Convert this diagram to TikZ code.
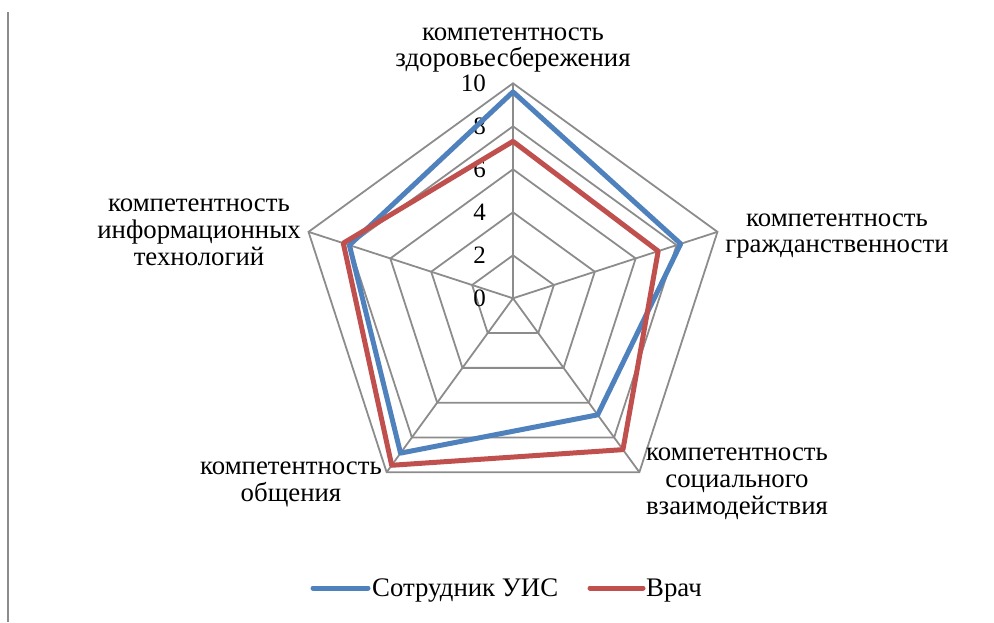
\documentclass[tikz,border=0pt]{standalone}
\usepackage{fontspec}
\setmainfont{Liberation Serif}
\usetikzlibrary{calc}
\definecolor{sblue}{HTML}{4F81BD}
\definecolor{sred}{HTML}{C0504D}
\definecolor{gridc}{HTML}{8C8C8C}
\begin{document}
\begin{tikzpicture}[x=1pt,y=1pt,
  font=\fontsize{26.8}{26.8}\selectfont,
  gridline/.style={draw=gridc,line width=1.8pt},
  series/.style={line width=5pt,line join=round},
  lbl/.style={align=center,inner sep=0pt},
  tick/.style={anchor=east,inner sep=0pt,font=\fontsize{25}{27}\selectfont}]
\useasboundingbox (0,0) rectangle (994,622);
\draw[gridline] (8,610) -- (8,0);
\coordinate (O) at (513,323.7);
% grid
\foreach \r in {2,4,6,8,10}{
  \draw[gridline] ($(O)+(90:\r*21.5)$) -- ($(O)+(18:\r*21.5)$) -- ($(O)+(-54:\r*21.5)$) -- ($(O)+(-126:\r*21.5)$) -- ($(O)+(162:\r*21.5)$) -- cycle;
}
\foreach \a/\n in {90/a,18/b,-54/c,-126/d,162/e}{
  \coordinate (v\n) at ($(O)+(\a:215)$);
  \draw[gridline] (O) -- (v\n);
}
% tick labels
\foreach \v in {0,2,4,6,8,10}{
  \node[tick] (t\v) at (486,323.7+\v*21.5) {\v};
}
% series
\draw[series,sblue] ($(O)+(90:9.6*21.5)$) -- ($(O)+(18:8.2*21.5)$) -- ($(O)+(-54:6.7*21.5)$) -- ($(O)+(-126:8.9*21.5)$) -- ($(O)+(162:8.0*21.5)$) -- cycle;
\draw[series,sred] ($(O)+(90:7.3*21.5)$) -- ($(O)+(18:7.1*21.5)$) -- ($(O)+(-54:8.7*21.5)$) -- ($(O)+(-126:9.6*21.5)$) -- ($(O)+(162:8.3*21.5)$) -- cycle;
% axis labels
\node[lbl] (la) at (513,572) {компетентность\\здоровьесбережения};
\node[lbl] (lb) at (837,386) {компетентность\\гражданственности};
\node[lbl] (lc) at (737,138) {компетентность\\социального\\взаимодействия};
\node[lbl] (ld) at (291,137.5) {компетентность\\общения};
\node[lbl] (le) at (199,389.5) {компетентность\\информационных\\технологий};
% legend
\coordinate (b1) at (313,34); \coordinate (b2) at (368,34);
\coordinate (r1) at (590,34); \coordinate (r2) at (643,34);
\draw[sblue,line width=5pt,line cap=round] (b1) -- (b2);
\draw[sred,line width=5pt,line cap=round] (r1) -- (r2);
\node[anchor=base west,inner sep=0pt] (lgb) at (372,26) {Сотрудник УИС};
\node[anchor=base west,inner sep=0pt] (lgr) at (646,26) {Врач};
\end{tikzpicture}
\end{document}
